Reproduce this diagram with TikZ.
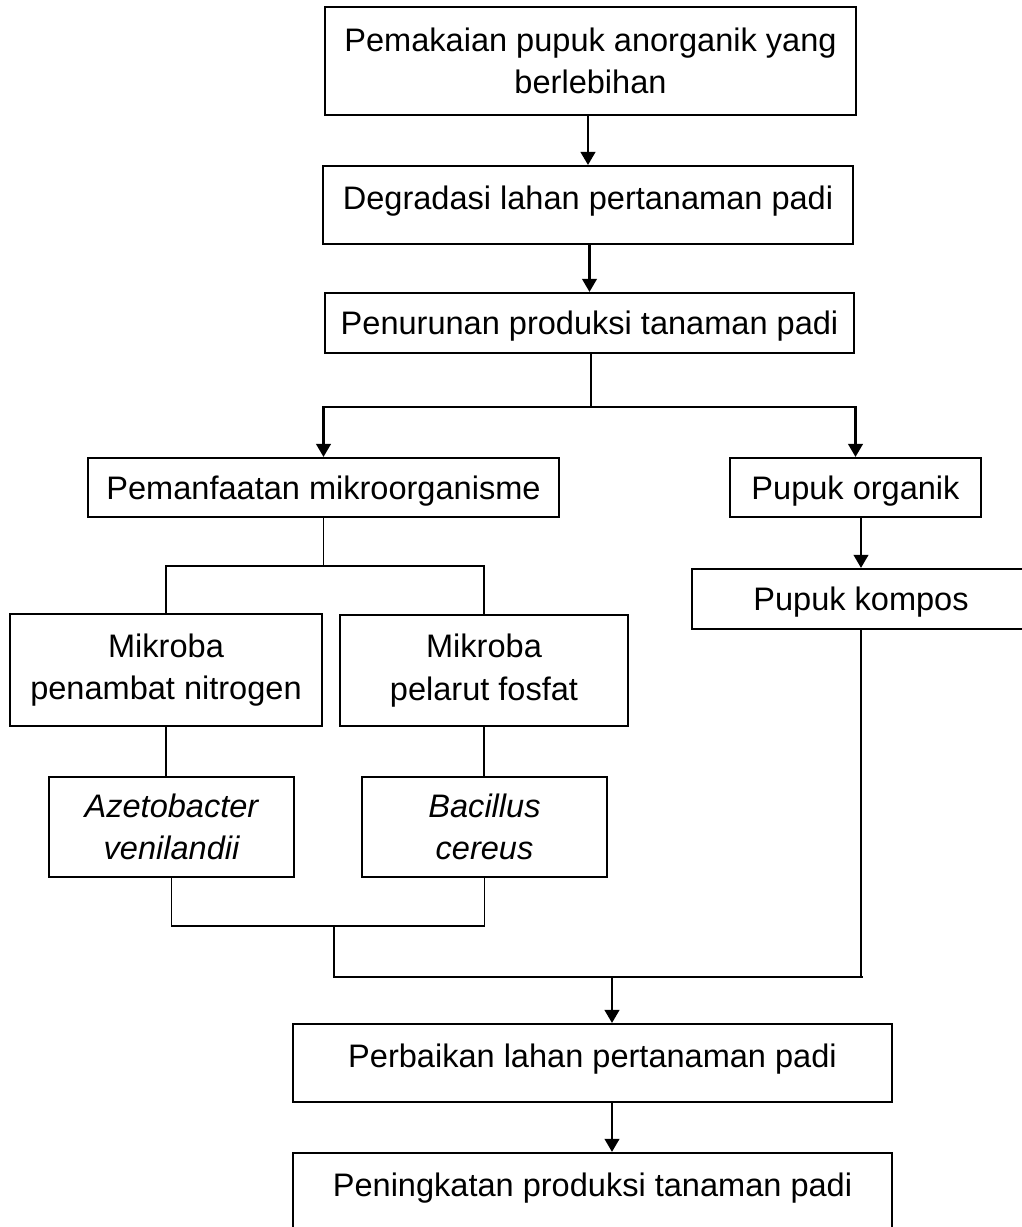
\documentclass[tikz,border=0pt]{standalone}
\usepackage{fontspec}
\setmainfont{Liberation Sans}
\usetikzlibrary{arrows.meta}
\begin{document}
\begin{tikzpicture}[x=0.381pt,y=-0.381pt,
  box/.style={draw, line width=0.8pt, rectangle, inner sep=0pt, align=center,
    font=\fontsize{12.4}{16.2}\selectfont},
  one/.style={text depth=0pt},
  topd/.style={text depth=#1},
  conn/.style={line width=0.6pt},
  arr/.style={line width=0.85pt, -{Triangle[length=5pt,width=5.6pt]}}
]
\useasboundingbox (0,0) rectangle (1022,1227);

\node[box, minimum width=202.3pt, minimum height=41.1pt] (b1) at (590.5,61)
  {Pemakaian pupuk anorganik yang\\berlebihan};
\node[box, topd=5.6pt, minimum width=201.9pt, minimum height=29.7pt] (b2) at (588,205)
  {Degradasi lahan pertanaman padi};
\node[box, one, minimum width=201.5pt, minimum height=22.9pt] (b3) at (589.5,323)
  {Penurunan produksi tanaman padi};
\node[box, one, minimum width=179.5pt, minimum height=22.5pt] (b4) at (323.5,487.5)
  {Pemanfaatan mikroorganisme};
\node[box, one, minimum width=95.6pt, minimum height=22.5pt] (b5) at (855.5,487.5)
  {Pupuk organik};
\node[box, one, minimum width=128.8pt, minimum height=22.9pt] (b6) at (861,599)
  {Pupuk kompos};
\node[box, minimum width=118.9pt, minimum height=42.7pt] (b7) at (166,670)
  {Mikroba\\penambat nitrogen};
\node[box, minimum width=109.7pt, minimum height=42.3pt] (b8) at (484,670.5)
  {Mikroba\\pelarut fosfat};
\node[box, minimum width=93.3pt, minimum height=38.1pt] (b9) at (171.5,827)
  {\itshape Azetobacter\\\itshape venilandii};
\node[box, minimum width=93.3pt, minimum height=38.1pt] (b10) at (484.5,827)
  {\itshape Bacillus\\\itshape cereus};
\node[box, topd=5.6pt, minimum width=228.2pt, minimum height=29.7pt] (b11) at (592.5,1063)
  {Perbaikan lahan pertanaman padi};
\node[box, topd=11pt, minimum width=228.2pt, minimum height=35.1pt] (b12) at (592.5,1199)
  {Peningkatan produksi tanaman padi};

% top chain
\draw[arr] (b2.north |- b1.south) -- (b2.north);
\draw[arr] (b3.north |- b2.south) -- (b3.north);

% first branch
\coordinate (j1) at (591,407);
\draw[conn] (j1 |- b3.south) -- (j1);
\draw[arr] (j1) -| (b4.north);
\draw[arr] (j1) -| (b5.north);

% organic branch
\draw[arr] (b6.north |- b5.south) -- (b6.north);

% microbe branch
\coordinate (j2) at (323.5,566);
\draw[conn] (b4.south) -- (j2);
\draw[conn] (j2) -| (b7.north);
\draw[conn] (j2) -| (b8.north);
\draw[conn] (b7.south) -- (b7.south |- b9.north);
\draw[conn] (b8.south) -- (b8.south |- b10.north);

% merge
\coordinate (j3) at (334,926);
\coordinate (j4) at (334,977);
\coordinate (j6) at (863,977);
\coordinate (j5) at (612,977);
\draw[conn] (b9.south) -- (b9.south |- j3) -- (b10.south |- j3) -- (b10.south);
\draw[conn] (j3) -- (j4) -- (j6);
\draw[conn] (b6.south) -- (b6.south |- j6);
\draw[arr] (j5) -- (j5 |- b11.north);
\draw[arr] (j5 |- b11.south) -- (j5 |- b12.north);
\end{tikzpicture}
\end{document}
